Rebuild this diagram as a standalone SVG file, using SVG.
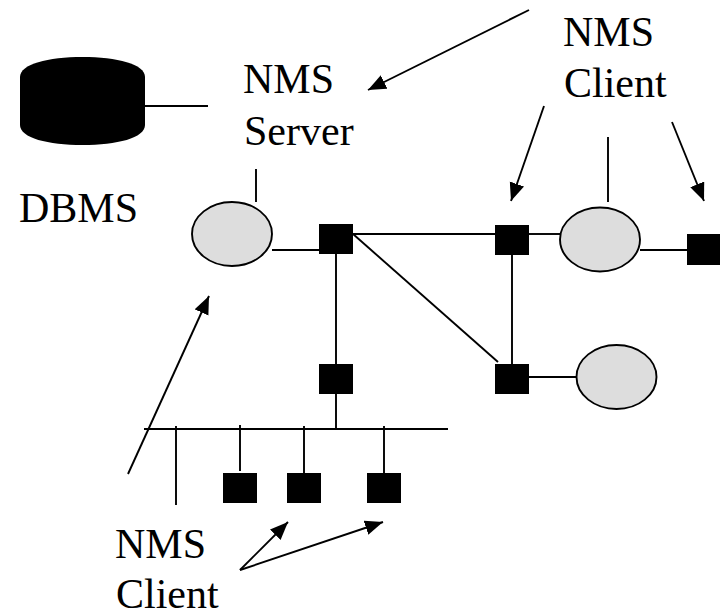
<svg xmlns="http://www.w3.org/2000/svg" width="720" height="611" viewBox="0 0 720 611">
<style>
text{font-family:"Liberation Serif","Times New Roman",serif;font-size:42px;fill:#000}
.l{stroke:#000;stroke-width:1.9;fill:none}
.a{stroke:#000;stroke-width:1.9;fill:none;marker-end:url(#ah)}
.e{fill:#ddd;stroke:#000;stroke-width:1.9}
.s{fill:#000}
</style>
<defs>
<marker id="ah" markerUnits="userSpaceOnUse" markerWidth="20" markerHeight="16" refX="18" refY="7.5" orient="auto">
<path d="M0 0L18 7.500L0 15Z" fill="#000"/>
</marker>
</defs>
<rect width="720" height="611" fill="#fff"/>
<g id="connectors">
<line class="l" x1="145" y1="106" x2="208" y2="106"/>
<line class="l" x1="256" y1="169" x2="256" y2="202"/>
<line class="l" x1="272" y1="250" x2="319" y2="250"/>
<line class="l" x1="336" y1="254" x2="336" y2="364"/>
<line class="l" x1="353" y1="234" x2="495" y2="234"/>
<line class="l" x1="353" y1="234" x2="498" y2="362"/>
<line class="l" x1="529" y1="234" x2="560" y2="234"/>
<line class="l" x1="512" y1="255" x2="512" y2="364"/>
<line class="l" x1="608" y1="137" x2="608" y2="202"/>
<line class="l" x1="640" y1="250" x2="687" y2="250"/>
<line class="l" x1="529" y1="377" x2="576" y2="377"/>
<line class="l" x1="336" y1="394" x2="336" y2="429"/>
<line class="l" x1="144" y1="429" x2="448" y2="429"/>
<line class="l" x1="176" y1="426" x2="176" y2="505"/>
<line class="l" x1="240" y1="425" x2="240" y2="471"/>
<line class="l" x1="304" y1="426" x2="304" y2="473"/>
<line class="l" x1="384" y1="426" x2="384" y2="473"/>
<line class="a" x1="529" y1="10" x2="368" y2="90"/>
<line class="a" x1="544" y1="106" x2="511" y2="201"/>
<line class="a" x1="672" y1="122" x2="704" y2="201"/>
<line class="a" x1="128" y1="474" x2="209" y2="296"/>
<line class="a" x1="240" y1="570" x2="288" y2="522"/>
<line class="a" x1="240" y1="570" x2="383" y2="522"/>
</g>
<g id="dbms"><path class="s" d="M20 77C20 64 48 57 82.500 57C117 57 145 64 145 77V125C145 138 117 145 82.500 145C48 145 20 138 20 125Z"/><text x="19" y="222">DBMS</text></g>
<g id="nms-server"><text x="243" y="93">NMS</text><text x="244" y="145">Server</text></g>
<g id="nms-client-top"><text x="563" y="46">NMS</text><text x="564" y="97">Client</text></g>
<g id="nms-client-bottom"><text x="115" y="558">NMS</text><text x="116" y="608">Client</text></g>
<g id="ellipse-1"><ellipse class="e" cx="232" cy="234" rx="40" ry="32"/></g>
<g id="ellipse-2"><ellipse class="e" cx="600" cy="239.500" rx="40" ry="32"/></g>
<g id="ellipse-3"><ellipse class="e" cx="616.500" cy="377" rx="40" ry="32"/></g>
<g id="switch-1"><rect class="s" x="319" y="224" width="34" height="30"/></g>
<g id="switch-2"><rect class="s" x="495" y="225" width="34" height="30"/></g>
<g id="switch-3"><rect class="s" x="687" y="234" width="33" height="31"/></g>
<g id="switch-4"><rect class="s" x="495" y="364" width="34" height="30"/></g>
<g id="switch-5"><rect class="s" x="319" y="364" width="34" height="30"/></g>
<g id="switch-6"><rect class="s" x="223" y="473" width="34" height="30"/></g>
<g id="switch-7"><rect class="s" x="287" y="473" width="34" height="30"/></g>
<g id="switch-8"><rect class="s" x="367" y="473" width="34" height="30"/></g>
</svg>
